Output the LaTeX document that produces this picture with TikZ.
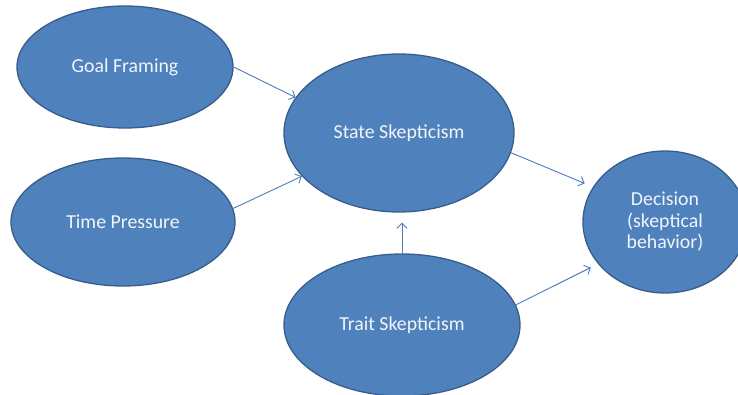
\documentclass[tikz,border=0pt]{standalone}
\usepackage{fontspec}
\setmainfont{Carlito}
\usetikzlibrary{shapes.geometric,arrows.meta,calc}
\definecolor{blobfill}{HTML}{4F81BD}
\definecolor{blobline}{HTML}{385D8A}
\definecolor{arrcol}{HTML}{4A7EBB}
\definecolor{blobtext}{HTML}{F2F5FA}
\begin{document}
\begin{tikzpicture}[x=1pt,y=-1pt,
  blob/.style={ellipse,draw=blobline,line width=1.3pt,fill=blobfill,inner sep=0pt,
    text=blobtext,font=\fontsize{19.8}{21.5}\selectfont,align=center},
  arr/.style={draw=arrcol,line width=0.9pt,-{Straight Barb[length=5pt,width=10pt]}}]
\useasboundingbox (0,0) rectangle (738,395);
\node[blob,minimum width=216pt,minimum height=122pt] (gf) at (125,67) {Goal Framing};
\node[blob,minimum width=224pt,minimum height=128pt] (tp) at (123,222) {Time Pressure};
\node[blob,minimum width=230pt,minimum height=158pt] (ss) at (399,133) {State Skepticism};
\node[blob,minimum width=236pt,minimum height=142pt] (ts) at (402,325) {Trait Skepticism};
\node[blob,minimum width=164pt,minimum height=142pt] (dc) at (665,222) {Decision\\(skeptical\\behavior)};
\draw[arr] (gf.east) -- (ss.161);
\draw[arr] (tp.7) -- (ss.204);
\draw[arr,shorten >=9pt] (ss.-10) -- (dc.154);
\draw[arr,shorten >=10pt] (ts.north) -- (ts.north |- ss.south);
\draw[arr,shorten >=8pt] (ts.10) -- (dc.212);
\end{tikzpicture}
\end{document}
